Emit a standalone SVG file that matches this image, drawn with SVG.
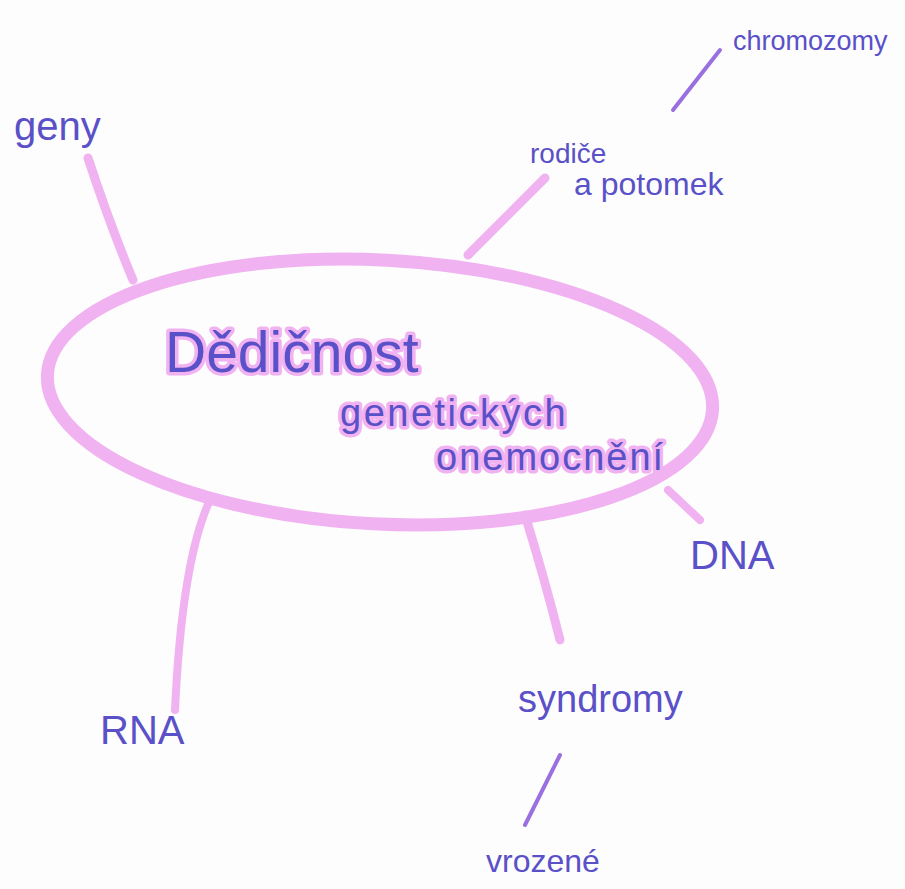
<svg xmlns="http://www.w3.org/2000/svg" width="905" height="889" viewBox="0 0 905 889">
<style>
.pk{stroke:#f0b2f0;stroke-linecap:round;fill:none}
.pu{stroke:#9a70e0;stroke-linecap:round;fill:none;stroke-width:4}
.t{font-family:"Liberation Sans",Arial,sans-serif;fill:#5a50c8}
.hl{stroke:#f0b2f0;stroke-width:7;stroke-linejoin:round;fill:#5a50c8;paint-order:stroke}
</style>
<rect width="905" height="889" fill="#fdfdfd"/>
<g id="connectors">
<path class="pk" stroke-width="9" d="M88,158 Q110,225 133,280"/>
<path class="pk" stroke-width="9" d="M545,178 L468,255"/>
<path class="pu" d="M720,50 L673,110"/>
<path class="pk" stroke-width="8" d="M668,490 L700,520"/>
<path class="pk" stroke-width="8" d="M210,500 Q182,560 175,710"/>
<path class="pk" stroke-width="9" d="M525,515 Q545,580 560,640"/>
<path class="pu" d="M560,755 L525,825"/>
</g>
<g id="center">
<ellipse cx="380" cy="392" rx="333" ry="132" transform="rotate(3 380 392)" class="pk" stroke-width="13"/>
<text class="t hl" x="165" y="372" font-size="57">Dědičnost</text>
<text class="t hl" x="340" y="426" font-size="38" letter-spacing="2.5">genetických</text>
<text class="t hl" x="436" y="470" font-size="38" letter-spacing="2">onemocnění</text>
</g>
<g id="geny"><text class="t" x="14" y="140" font-size="40">geny</text></g>
<g id="chromozomy"><text class="t" x="733" y="50" font-size="27">chromozomy</text></g>
<g id="rodice"><text class="t" x="530" y="163" font-size="28">rodiče</text><text class="t" x="574" y="195" font-size="32">a potomek</text></g>
<g id="dna"><text class="t" x="690" y="569" font-size="40">DNA</text></g>
<g id="rna"><text class="t" x="100" y="744" font-size="40">RNA</text></g>
<g id="syndromy"><text class="t" x="518" y="712" font-size="38">syndromy</text></g>
<g id="vrozene"><text class="t" x="486" y="872" font-size="32">vrozené</text></g>
</svg>
